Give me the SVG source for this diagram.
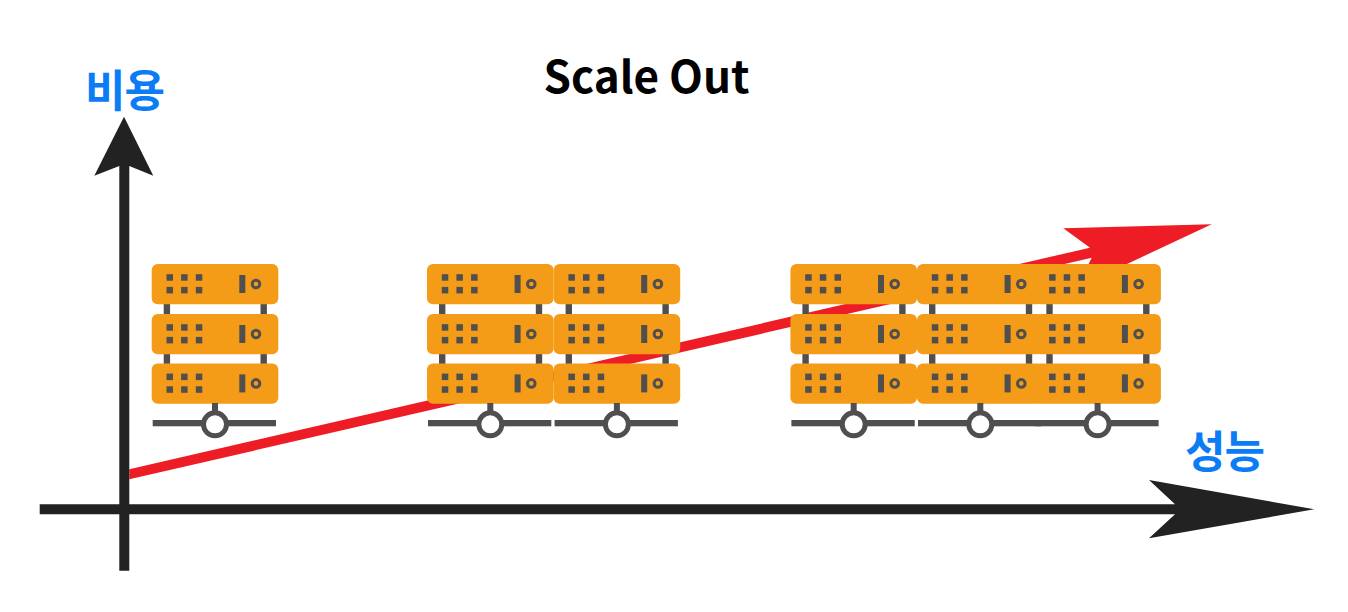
<svg xmlns="http://www.w3.org/2000/svg" xmlns:xlink="http://www.w3.org/1999/xlink" width="1348" height="612" viewBox="0 0 1348 612">
<style>
.o{fill:#f49c18}.d{fill:#4f4f4f}.k{fill:#222}.r{fill:#ee1c25}
.t{font-family:"Noto Sans CJK KR","Noto Sans",sans-serif;font-weight:700}
.b{fill:#0b7cf6;font-size:44px;letter-spacing:-1px}
</style>
<defs>
<g id="unit">
<rect class="o" x="0" y="0" width="126.6" height="40.3" rx="6"/>
<rect class="d" x="14.8" y="10.2" width="6.5" height="6.5"/><rect class="d" x="29.4" y="10.2" width="6.5" height="6.5"/><rect class="d" x="44.1" y="10.2" width="6.5" height="6.5"/>
<rect class="d" x="14.8" y="22.9" width="6.5" height="6.5"/><rect class="d" x="29.4" y="22.9" width="6.5" height="6.5"/><rect class="d" x="44.1" y="22.9" width="6.5" height="6.5"/>
<rect class="d" x="87.6" y="11" width="6" height="18"/>
<circle cx="104.3" cy="20" r="3.8" fill="none" stroke="#4f4f4f" stroke-width="3"/>
</g>
<g id="server">
<rect class="d" x="12" y="300" width="6.4" height="70"/><rect class="d" x="108.8" y="300" width="6.4" height="70"/>
<use xlink:href="#unit" href="#unit" y="264"/>
<use xlink:href="#unit" href="#unit" y="314"/>
<use xlink:href="#unit" href="#unit" y="363.4"/>
<rect class="d" x="60.3" y="403" width="6" height="12"/>
<rect class="d" x="1" y="420" width="123.3" height="6.3"/>
<circle cx="63.3" cy="424.3" r="11.5" fill="#fff" stroke="#4f4f4f" stroke-width="5"/>
</g>
</defs>
<rect width="1348" height="612" fill="#fff"/>
<g id="connectors">
<path id="cost-line" class="r" d="M129.3 469.3L1090 247.7L1063.3 228.3L1211.7 224.3L1077 287.4L1091.7 257.7L129.3 479.3Z"/>
<path id="y-axis" class="k" d="M119.3 570.7V166L94.3 175.7L124 116.7L153.3 175.7L129.3 166V570.7Z"/>
<path id="x-axis" class="k" d="M39.7 504.3H1175L1149 480L1314.3 509.3L1149 538.3L1175 514.3H39.7Z"/>
</g>
<g id="server-1"><use xlink:href="#server" href="#server" x="151.7"/></g>
<g id="server-2"><use xlink:href="#server" href="#server" x="427"/></g>
<g id="server-3"><use xlink:href="#server" href="#server" x="553.6"/></g>
<g id="server-4"><use xlink:href="#server" href="#server" x="790.4"/></g>
<g id="server-5"><use xlink:href="#server" href="#server" x="917"/></g>
<g id="server-6"><use xlink:href="#server" href="#server" x="1034.3"/></g>
<text id="title" class="t" x="646.5" y="93" font-size="44" text-anchor="middle" fill="#000">Scale Out</text>
<text id="y-label" class="t b" x="124.5" y="107" text-anchor="middle">비용</text>
<text id="x-label" class="t b" x="1224.5" y="467.5" text-anchor="middle">성능</text>
</svg>
